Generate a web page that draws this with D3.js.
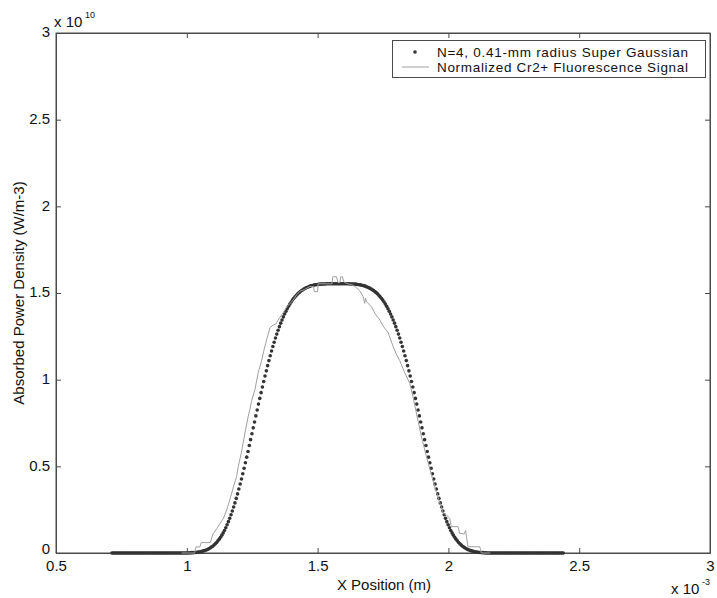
<!doctype html>
<html>
<head>
<meta charset="utf-8" />
<title>Absorbed power density</title>
<script src="https://cdn.jsdelivr.net/npm/d3@7"></script>
<style>
  body { margin: 0; background: #fff; }
  svg { font-family: "Liberation Sans", Arial, sans-serif; }
</style>
</head>
<body>
<svg width="717" height="598"></svg>
<script>
// x in units of 1e-3 m, y in units of 1e10 W/m^3
const xTicks = [0.5, 1, 1.5, 2, 2.5, 3];
const yTicks = [0, 0.5, 1, 1.5, 2, 2.5, 3];

// Super Gaussian fit, sampled every 0.005 starting at 0.714
const gaussStart = 0.714;
const gaussStep = 0.005;
const gaussValues = [
  0,0,0,0,0,0,0,0,0,0, 0,0,0,0,0,0,0,0,0,0, 0,0,0,0,0,0,0,0,0,0,
  0,0,0,0,0,0,0,0,0,0, 0,0,0,0,0,0,0,0,0,0, 0,0,0,0,0,0,0,0,0,
  0.001,0.001,0.002,0.002,
  0.003,0.003,0.004,0.005,0.006,0.008,0.010,0.012,0.014,0.017,
  0.020,0.024,0.029,0.034,0.039,0.046,0.053,0.061,0.070,0.080,
  0.091,0.103,0.116,0.130,0.146,0.163,0.181,0.200,0.221,0.242,
  0.265,0.289,0.315,0.341,0.369,0.398,0.427,0.457,0.489,0.521,
  0.553,0.586,0.620,0.654,0.688,0.722,0.756,0.791,0.825,0.859,
  0.892,0.925,0.958,0.989,1.021,1.051,1.081,1.110,1.138,1.165,
  1.191,1.216,1.240,1.263,1.285,1.306,1.326,1.344,1.362,1.379,
  1.394,1.409,1.423,1.436,1.448,1.459,1.469,1.478,1.487,1.495,
  1.502,1.508,1.514,1.519,1.524,1.528,1.532,1.535,1.538,1.541,
  1.543,1.545,1.547,1.548,1.549,1.550,1.551,1.551,1.552,1.552,
  1.552,1.553,1.553,1.553,1.553,1.553,1.553,1.553,1.553,1.553,
  1.553,1.553,1.553,1.553,1.553,1.553,1.553,1.553,1.553,1.552,
  1.552,1.552,1.551,1.551,1.550,1.549,1.548,1.547,1.545,1.543,
  1.541,1.538,1.535,1.532,1.528,1.524,1.519,1.514,1.508,1.502,
  1.495,1.487,1.478,1.469,1.459,1.448,1.436,1.423,1.409,1.394,
  1.379,1.362,1.344,1.326,1.306,1.285,1.263,1.240,1.216,1.191,
  1.165,1.138,1.110,1.081,1.051,1.021,0.989,0.958,0.925,0.892,
  0.859,0.825,0.791,0.756,0.722,0.688,0.654,0.620,0.586,0.553,
  0.521,0.489,0.457,0.427,0.398,0.369,0.341,0.315,0.289,0.265,
  0.242,0.221,0.200,0.181,0.163,0.146,0.130,0.116,0.103,0.091,
  0.080,0.070,0.061,0.053,0.046,0.039,0.034,0.029,0.024,0.020,
  0.017,0.014,0.012,0.010,0.008,0.006,0.005,0.004,0.003,0.003,
  0.002,0.002,0.001,0.001,
  0,0,0,0,0,0,0,0,0,0, 0,0,0,0,0,0,0,0,0,0, 0,0,0,0,0,0,0,0,0,0,
  0,0,0,0,0,0,0,0,0,0, 0,0,0,0,0,0,0,0,0,0, 0,0,0,0,0,0,0,0,0
];

// measured fluorescence trace
const signalX = [0.98,1.03,1.035,1.05,1.055,1.09,1.10,1.115,1.127,1.14,1.153,1.165,1.178,1.19,1.197,
  1.21,1.222,1.235,1.2415,1.248,1.26,1.273,1.286,1.295,1.305,1.318,1.33,1.34,1.356,1.37,1.382,1.395,
  1.407,1.42,1.4325,1.45,1.47,1.485,1.487,1.50,1.502,1.555,1.558,1.572,1.578,1.585,1.589,1.595,1.60,
  1.61,1.623,1.636,1.649,1.662,1.674,1.68,1.683,1.687,1.706,1.72,1.738,1.75,1.77,1.789,1.80,1.814,
  1.833,1.852,1.865,1.88,1.897,1.916,1.93,1.95,1.965,1.98,1.992,2.005,2.011,2.037,2.043,2.06,2.066,
  2.069,2.075,2.12,2.126,2.16];
const signalY = [0,0,0.035,0.035,0.06,0.06,0.11,0.14,0.17,0.2,0.25,0.31,0.38,0.44,0.50,
  0.59,0.69,0.79,0.83,0.88,0.94,1.04,1.11,1.17,1.23,1.30,1.315,1.32,1.36,1.39,1.42,1.44,
  1.46,1.49,1.51,1.52,1.537,1.537,1.508,1.508,1.553,1.553,1.594,1.594,1.56,1.56,1.594,1.594,1.565,
  1.556,1.55,1.545,1.53,1.51,1.48,1.44,1.47,1.45,1.42,1.38,1.344,1.31,1.27,1.19,1.15,1.11,
  1.04,0.98,0.90,0.79,0.67,0.556,0.48,0.37,0.30,0.23,0.22,0.2,0.152,0.152,0.113,0.11,0.13,
  0.094,0.036,0.036,0,0];

const legendLabels = ["N=4, 0.41-mm radius Super Gaussian", "Normalized Cr2+ Fluorescence Signal"];

const axisColor = "#4a4a4a";
const dotColor = "#333";
const lineColor = "#a0a0a0";
const margin = { left: 56, right: 710, top: 33, bottom: 553 };

const svg = d3.select("svg");
const x = d3.scaleLinear().domain([0.5, 3]).range([margin.left, margin.right]);
const y = d3.scaleLinear().domain([0, 3]).range([margin.bottom, margin.top]);

// frame
svg.append("rect")
  .attr("x", margin.left).attr("y", margin.top)
  .attr("width", margin.right - margin.left).attr("height", margin.bottom - margin.top)
  .attr("fill", "#fff").attr("stroke", axisColor).attr("stroke-width", 1);

function styleAxis(g) {
  g.select(".domain").attr("stroke", axisColor);
  g.selectAll(".tick line").attr("stroke", axisColor);
  g.selectAll(".tick text").attr("fill", "#111").style("font-size", "15px")
    .style("font-family", "'Liberation Sans', Arial, sans-serif");
}

svg.append("g").attr("transform", `translate(0,${margin.bottom})`)
  .call(d3.axisBottom(x).tickValues(xTicks).tickFormat(d3.format("")).tickSize(-5).tickSizeOuter(0).tickPadding(7))
  .call(styleAxis);
svg.append("g").attr("transform", `translate(0,${margin.top})`)
  .call(d3.axisTop(x).tickValues(xTicks).tickFormat("").tickSize(-5).tickSizeOuter(0))
  .call(styleAxis);
svg.append("g").attr("transform", `translate(${margin.left},0)`)
  .call(d3.axisLeft(y).tickValues(yTicks).tickFormat(d3.format("")).tickSize(-5).tickSizeOuter(0).tickPadding(6))
  .call(styleAxis)
  .call(g => g.selectAll(".tick text").attr("dy", d => d === 0 ? "0em" : "0.25em"));
svg.append("g").attr("transform", `translate(${margin.right},0)`)
  .call(d3.axisRight(y).tickValues(yTicks).tickFormat("").tickSize(-5).tickSizeOuter(0))
  .call(styleAxis);

// super gaussian dots
svg.append("g").selectAll("circle").data(gaussValues).enter()
  .append("circle")
  .attr("cx", (d, i) => x(gaussStart + i * gaussStep))
  .attr("cy", d => y(d))
  .attr("r", 1.8)
  .attr("fill", dotColor);

// fluorescence line
const signal = signalX.map((v, i) => [v, signalY[i]]);
svg.append("path").datum(signal)
  .attr("d", d3.line().x(d => x(d[0])).y(d => y(d[1])))
  .attr("fill", "none").attr("stroke", lineColor).attr("stroke-width", 1);

// exponent labels
svg.append("text").attr("x", 54).attr("y", 27).attr("fill", "#111").style("font-size", "15px").text("x 10");
svg.append("text").attr("x", 85).attr("y", 18).attr("fill", "#111").style("font-size", "9px").text("10");

svg.append("text").attr("x", 671).attr("y", 594).attr("fill", "#111").style("font-size", "15px").text("x 10");
svg.append("text").attr("x", 702).attr("y", 585).attr("fill", "#111").style("font-size", "9px").text("-3");

// axis titles
svg.append("text").attr("x", (margin.left + margin.right) / 2 + 1).attr("y", 590)
  .attr("text-anchor", "middle").attr("fill", "#111").style("font-size", "15px").text("X Position (m)");
svg.append("text").attr("transform", `translate(24,${(margin.top + margin.bottom) / 2}) rotate(-90)`)
  .attr("text-anchor", "middle").attr("fill", "#111").style("font-size", "15px")
  .text("Absorbed Power Density (W/m-3)");

// legend
const lg = svg.append("g");
lg.append("rect").attr("x", 392.5).attr("y", 40.5).attr("width", 313).attr("height", 37)
  .attr("fill", "#fff").attr("stroke", axisColor);
lg.append("circle").attr("cx", 415).attr("cy", 52).attr("r", 1.8).attr("fill", dotColor);
lg.append("line").attr("x1", 402).attr("x2", 429).attr("y1", 67).attr("y2", 67)
  .attr("stroke", lineColor);
lg.selectAll("text.lab").data(legendLabels).enter().append("text")
  .attr("class", "lab")
  .attr("x", 437).attr("y", (d, i) => 56.5 + i * 15.5)
  .attr("textLength", 251).attr("lengthAdjust", "spacing")
  .attr("fill", "#111").style("font-size", "13.5px").text(d => d);
</script>
</body>
</html>
